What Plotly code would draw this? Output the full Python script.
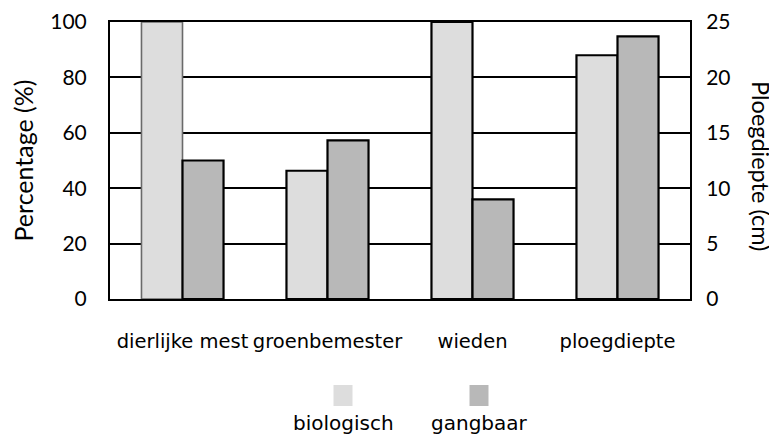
import plotly.graph_objects as go

categories = ["dierlijke mest", "groenbemester", "wieden", "ploegdiepte"]
pct_categories = categories[:3]
cm_categories = categories[3:]
biologisch_pct = [100, 46.3, 100]
gangbaar_pct = [50, 57.3, 36]
biologisch_cm = [22.0]
gangbaar_cm = [23.7]
series_names = ["biologisch", "gangbaar"]
left_ticks = [0, 20, 40, 60, 80, 100]
right_ticks = [0, 5, 10, 15, 20, 25]
left_title = "Percentage (%)"
right_title = "Ploegdiepte (cm)"

BIO = "#DDDDDD"
GANG = "#B8B8B8"
AXFONT = "Lato, sans-serif"
CATFONT = "DejaVu Sans, sans-serif"
W = 0.283
LW = 2.2

# page offset of the figure (body margin) compensated in margins
PL, PT, PR, PB = 110, 22, 690, 299  # plot area in page px
OFF = 8

fig = go.Figure()
fig.add_trace(go.Bar(x=pct_categories, y=biologisch_pct, name=series_names[0],
                     marker=dict(color=BIO, line=dict(color=["#6a6a6a", "black", "black"], width=[1.6, LW, LW])),
                     width=W, offset=-W, showlegend=False))
fig.add_trace(go.Bar(x=pct_categories, y=gangbaar_pct, name=series_names[1],
                     marker=dict(color=GANG, line=dict(color="black", width=LW)),
                     width=W, offset=0, showlegend=False))
fig.add_trace(go.Bar(x=cm_categories, y=biologisch_cm, name=series_names[0],
                     marker=dict(color=BIO, line=dict(color="black", width=LW)),
                     width=W, offset=-W, yaxis="y2", showlegend=False))
fig.add_trace(go.Bar(x=cm_categories, y=gangbaar_cm, name=series_names[1],
                     marker=dict(color=GANG, line=dict(color="black", width=LW)),
                     width=W, offset=0, yaxis="y2", showlegend=False))

fig.update_layout(
    width=777, height=434,
    margin=dict(l=PL - OFF, r=777 - PR + OFF, t=PT - OFF, b=434 - PB + OFF, autoexpand=False),
    paper_bgcolor="white", plot_bgcolor="white",
    font=dict(family=AXFONT, size=21, color="black"),
    xaxis=dict(categoryorder="array", categoryarray=categories, range=[-0.5, 3.5],
               showline=True, linecolor="black", linewidth=2, mirror=True,
               ticks="", ticklabelstandoff=24, automargin=False,
               tickfont=dict(family=CATFONT, size=19.5)),
    yaxis=dict(range=[0, 100], tickvals=left_ticks, showgrid=True, gridcolor="black",
               gridwidth=1.5, showline=True, linecolor="black", linewidth=2,
               zeroline=False, ticks="", ticklabelstandoff=17, automargin=False,
               title=dict(text=left_title, standoff=14)),
    yaxis2=dict(range=[0, 25], tickvals=right_ticks, overlaying="y", side="right",
                showgrid=False, zeroline=False, showline=True, linecolor="black", linewidth=2,
                ticks="", ticklabelstandoff=10, automargin=False),
    barmode="overlay",
)

pw, ph = PR - PL, PB - PT
fig.add_annotation(text=right_title, xref="paper", yref="paper", showarrow=False,
                   x=(761 - PL) / pw, y=(PB - 166) / ph, textangle=90,
                   xanchor="center", yanchor="middle", font=dict(family=AXFONT, size=23.5))

# custom legend: swatch above label
legend_items = [(series_names[0], BIO, 343), (series_names[1], GANG, 479)]
for name, col, cx in legend_items:
    fig.add_shape(type="rect", xref="paper", yref="paper",
                  x0=(cx - PL - 9.5) / pw, x1=(cx - PL + 9.5) / pw,
                  y0=(PB - 406) / ph, y1=(PB - 385) / ph,
                  fillcolor=col, line=dict(width=0))
    fig.add_annotation(text=name, xref="paper", yref="paper", showarrow=False,
                       x=(cx - PL) / pw, y=(PB - 423) / ph,
                       xanchor="center", yanchor="middle",
                       font=dict(family=CATFONT, size=20))

fig.write_html("out.html")
